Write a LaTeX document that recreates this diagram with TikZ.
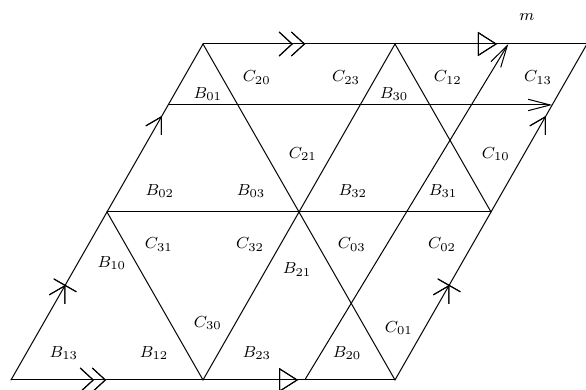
\documentclass[tikz,border=0pt]{standalone}
\usepackage{tkz-euclide}
\usetikzlibrary{arrows.meta,calc,decorations.markings}
\tikzset{
  chev/.tip={Straight Barb[length=6.5pt,width=12pt]},
  tri/.tip={Triangle[open,length=9.5pt,width=12pt]},
  barb/.tip={Straight Barb[length=7.8pt,width=9pt]},
  longbarb/.tip={Straight Barb[length=11pt,width=5.7pt]},
  lbl/.style={font=\footnotesize,inner sep=1pt},
  bottomedge/.style={postaction={decorate},decoration={markings,
    mark=at position 0.216 with {\arrow{chev}},
    mark=at position 0.2475 with {\arrow{chev}},
    mark=at position 0.7475 with {\arrow{tri}}}},
  topedge/.style={postaction={decorate},decoration={markings,
    mark=at position 0.234 with {\arrow{chev}},
    mark=at position 0.266 with {\arrow{chev}},
    mark=at position 0.7656 with {\arrow{tri}}}},
  sideedge/.style={postaction={decorate},decoration={markings,
    mark=at position 0.283 with {\arrow{barb}\arrow{Bar[width=13pt]}},
    mark=at position 0.786 with {\arrow{barb}}}}
}

\begin{document}
\begin{tikzpicture}[scale=1.6869]
\tkzSetUpLine[line width=0.5pt,color=black]
\useasboundingbox (-0.1146,-0.1042) rectangle (5.9896,3.9583);

\tkzDefPoints{0/0/A,2/0/B,4/0/C,1/1.75/D,3/1.75/E,5/1.75/F,2/3.5/G,4/3.5/H,6/3.5/I}
\tkzDefPoints{3.06/0/M,5.18/3.5/N}

\tkzDefPointOnLine[pos=0.8185](A,G) \tkzGetPoint{J}
\tkzDefPointOnLine[pos=0.8185](C,I) \tkzGetPoint{K}

% triangulation
\tkzDrawSegment[line width=0.5pt](D,F)
\tkzDrawSegment[line width=0.5pt](G,C)
\tkzDrawSegment[line width=0.5pt](D,B)
\tkzDrawSegment[line width=0.5pt](H,F)
\tkzDrawSegment[line width=0.5pt](B,H)

% glued sides
\tkzDrawSegment[line width=0.5pt,bottomedge](A,C)
\tkzDrawSegment[line width=0.5pt,topedge](G,I)
\tkzDrawSegment[line width=0.5pt,sideedge](A,G)
\tkzDrawSegment[line width=0.5pt,sideedge](C,I)

% curves
\draw[line width=0.5pt,-longbarb] (J) -- (K);
\draw[line width=0.5pt,-longbarb] (M) -- (N);

\node[lbl] (m) at (5.375,3.78) {$m$};

\node[lbl] (c20) at (2.56,3.15) {$C_{20}$};
\node[lbl] (c23) at (3.49,3.15) {$C_{23}$};
\node[lbl] (c12) at (4.55,3.15) {$C_{12}$};
\node[lbl] (c13) at (5.49,3.15) {$C_{13}$};
\node[lbl] (b01) at (2.05,2.98) {$B_{01}$};
\node[lbl] (b30) at (3.99,2.98) {$B_{30}$};
\node[lbl] (c21) at (3.04,2.35) {$C_{21}$};
\node[lbl] (c10) at (5.05,2.35) {$C_{10}$};
\node[lbl] (b02) at (1.55,1.97) {$B_{02}$};
\node[lbl] (b03) at (2.50,1.97) {$B_{03}$};
\node[lbl] (b32) at (3.56,1.97) {$B_{32}$};
\node[lbl] (b31) at (4.50,1.97) {$B_{31}$};
\node[lbl] (c31) at (1.54,1.41) {$C_{31}$};
\node[lbl] (c32) at (2.49,1.41) {$C_{32}$};
\node[lbl] (c03) at (3.55,1.41) {$C_{03}$};
\node[lbl] (c02) at (4.49,1.41) {$C_{02}$};
\node[lbl] (b10) at (1.05,1.22) {$B_{10}$};
\node[lbl] (b21) at (2.98,1.15) {$B_{21}$};
\node[lbl] (c30) at (2.05,0.59) {$C_{30}$};
\node[lbl] (c01) at (4.04,0.54) {$C_{01}$};
\node[lbl] (b13) at (0.55,0.28) {$B_{13}$};
\node[lbl] (b12) at (1.49,0.28) {$B_{12}$};
\node[lbl] (b23) at (2.56,0.28) {$B_{23}$};
\node[lbl] (b20) at (3.50,0.28) {$B_{20}$};

\end{tikzpicture}
\end{document}
